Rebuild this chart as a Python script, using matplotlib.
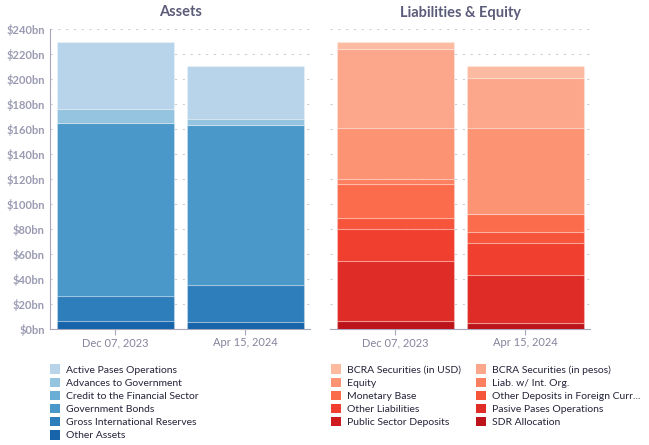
import numpy as np
import matplotlib
matplotlib.use('Agg')
from matplotlib import pyplot as plt
from matplotlib.patches import Patch

plt.rcParams['font.family'] = ['Lato', 'DejaVu Sans']

dates = ['Dec 07, 2023', 'Apr 15, 2024']

# Assets, bottom of the stack first (USD bn)
asset_names = ['Other Assets', 'Gross International Reserves', 'Government Bonds',
               'Credit to the Financial Sector', 'Advances to Government',
               'Active Pases Operations']
other_assets = [6.2, 5.9]
gross_reserves = [20.5, 29.1]
gov_bonds = [138.5, 128.6]
credit_fin = [0.0, 0.0]
advances_gov = [11.2, 4.5]
active_pases = [53.4, 42.5]
asset_vals = [other_assets, gross_reserves, gov_bonds, credit_fin, advances_gov, active_pases]

# Liabilities & equity, bottom of the stack first (USD bn)
liab_names = ['SDR Allocation', 'Public Sector Deposits', 'Pasive Pases Operations',
              'Other Liabilities', 'Other Deposits in Foreign Curr...', 'Monetary Base',
              'Liab. w/ Int. Org.', 'Equity', 'BCRA Securities (in pesos)',
              'BCRA Securities (in USD)']
sdr = [6.2, 4.6]
public_dep = [0.0, 0.0]
pasive_pases = [48.0, 38.4]
other_liab = [25.6, 25.6]
other_dep_fc = [9.3, 8.8]
monetary_base = [27.2, 14.4]
liab_int_org = [3.5, 0.0]
equity = [40.9, 68.9]
bcra_pesos = [63.5, 40.3]
bcra_usd = [5.6, 9.6]
liab_vals = [sdr, public_dep, pasive_pases, other_liab, other_dep_fc, monetary_base,
             liab_int_org, equity, bcra_pesos, bcra_usd]

yticks = np.arange(0, 241, 20)

blues = plt.get_cmap('Blues')(np.linspace(0.8, 0.3, len(asset_names)))
reds = plt.get_cmap('Reds')(np.linspace(0.8, 0.25, len(liab_names)))

tick_gray = '#9a9ab2'
title_col = '#5b5b7a'

fig = plt.figure(figsize=(6.49, 4.45), dpi=100)
ax1 = fig.add_axes([50.3 / 649, 1 - 329 / 445, 260 / 649, 300 / 445])
ax2 = fig.add_axes([330 / 649, 1 - 329 / 445, 260 / 649, 300 / 445])


def stack(ax, vals, colors):
    x = np.arange(len(dates))
    bottom = np.zeros(len(dates))
    for v, c in zip(vals, colors):
        ax.bar(x, v, 0.9, bottom=bottom, color=c,
               edgecolor=(1, 1, 1, 0.25), linewidth=0.8, zorder=3)
        bottom += np.array(v)
    ax.set_xlim(-0.5, 1.5)
    ax.set_ylim(0, 240)
    ax.set_xticks(x)
    ax.set_xticklabels(dates, fontsize=8, color='#85859e')
    ax.set_yticks(yticks)
    ax.grid(axis='y', color='#cdcdd8', linestyle=(0, (2, 5)), linewidth=0.8, zorder=0)
    for s in ['top', 'right']:
        ax.spines[s].set_visible(False)
    ax.spines['bottom'].set_color('#a8a8bc')
    ax.spines['left'].set_color('#a8a8bc')
    ax.tick_params(axis='x', length=4, color='#a8a8bc', pad=2)


stack(ax1, asset_vals, blues)
stack(ax2, liab_vals, reds)

ax1.set_yticklabels(['$%dbn' % t for t in yticks], fontsize=8, color=tick_gray,
                    fontweight='bold')
ax1.tick_params(axis='y', length=0, pad=4)
ax2.spines['left'].set_visible(False)
ax2.tick_params(axis='y', length=0, labelleft=False)

ax1.set_title('Assets', fontsize=10.5, fontweight='bold', color=title_col, pad=9)
ax2.set_title('Liabilities & Equity', fontsize=10.5, fontweight='bold', color=title_col, pad=9)


def legend(names, colors, x, y):
    handles = [Patch(facecolor=c, edgecolor='none') for c in colors]
    fig.legend(handles, names, loc='upper left', bbox_to_anchor=(x, y),
               frameon=False, fontsize=7.5, handlelength=1.0, handleheight=1.0,
               handletextpad=0.55, labelspacing=0.28, borderpad=0, borderaxespad=0,
               labelcolor='#24243a')


legend(asset_names[::-1], blues[::-1], 50 / 649, 1 - 364.5 / 445)
ln = liab_names[::-1]
lc = reds[::-1]
legend(ln[0::2], lc[0::2], 331 / 649, 1 - 364.5 / 445)
legend(ln[1::2], lc[1::2], 476 / 649, 1 - 364.5 / 445)

fig.savefig('out.png', dpi=100)
